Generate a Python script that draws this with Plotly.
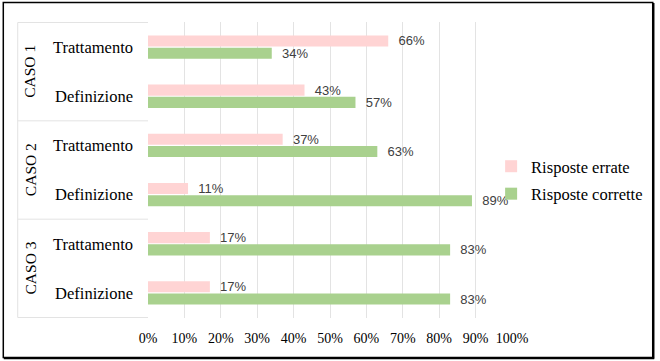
import plotly.graph_objects as go

# ---- data ----
casi = ["CASO 1", "CASO 2", "CASO 3"]
sottocategorie = ["Trattamento", "Definizione"]
tick_labels = ["Trattamento", "Definizione", "Trattamento", "Definizione", "Trattamento", "Definizione"]
risposte_errate = [66, 43, 37, 11, 17, 17]
risposte_corrette = [34, 57, 63, 89, 83, 83]
series_names = ["Risposte errate", "Risposte corrette"]
x_ticks = [0, 10, 20, 30, 40, 50, 60, 70, 80, 90, 100]

# ---- geometry ----
W, H = 660, 361
L, R, T, B = 148, 146, 22, 43
PW, PH = W - L - R, H - T - B


def px_x(px):
    return (px - L) / PW


def px_y(py):
    return (H - B - py) / PH


pos = list(range(len(tick_labels)))
pink = "#FFD4D4"
green = "#A9D18E"
serif = "Liberation Serif"
label_font = dict(family="Liberation Sans", size=13, color="#404040")

fig = go.Figure()
fig.add_trace(go.Bar(
    y=pos, x=risposte_errate, orientation="h", name=series_names[0],
    marker=dict(color=pink, line=dict(width=0)),
    text=["\u00a0\u00a0%d%%" % v for v in risposte_errate],
    textposition="outside", textfont=label_font, cliponaxis=False,
    constraintext="none", legendgroup="a",
))
fig.add_trace(go.Bar(
    y=pos, x=risposte_corrette, orientation="h", name=series_names[1],
    marker=dict(color=green, line=dict(width=0)),
    text=["\u00a0\u00a0%d%%" % v for v in risposte_corrette],
    textposition="outside", textfont=label_font, cliponaxis=False,
    constraintext="none", legendgroup="b",
))

shapes = []
div_color = "#E3E3E3"
# dividers in the category label column
for b in [-0.5, 1.5, 3.5, 5.5]:
    shapes.append(dict(type="line", xref="paper", yref="y",
                       x0=px_x(17), x1=0, y0=b, y1=b,
                       line=dict(color=div_color, width=1)))
shapes.append(dict(type="line", xref="paper", yref="y",
                   x0=px_x(17), x1=px_x(17), y0=-0.5, y1=5.5,
                   line=dict(color=div_color, width=1)))
# outer frame
shapes.append(dict(type="rect", xref="paper", yref="paper",
                   x0=px_x(2.5), x1=px_x(655.5), y0=px_y(357.5), y1=px_y(2.5),
                   line=dict(color="black", width=1.5)))
shapes.append(dict(type="line", xref="paper", yref="paper",
                   x0=px_x(656.5), x1=px_x(656.5), y0=px_y(358.5), y1=px_y(3),
                   line=dict(color="black", width=1.5)))
shapes.append(dict(type="line", xref="paper", yref="paper",
                   x0=px_x(3), x1=px_x(657), y0=px_y(358.5), y1=px_y(358.5),
                   line=dict(color="black", width=1.5)))

annotations = []
for i, c in enumerate(casi):
    annotations.append(dict(
        text=c, xref="paper", yref="y", x=px_x(29.5), y=2 * i + 0.5,
        xanchor="center", yanchor="middle",
        textangle=-90, showarrow=False,
        font=dict(family=serif, size=15.5, color="black"),
    ))

fig.update_layout(
    width=W, height=H,
    margin=dict(l=L, r=R, t=T, b=B, pad=0),
    paper_bgcolor="white", plot_bgcolor="white",
    barmode="group", bargap=0.5, bargroupgap=0.1,
    showlegend=True,
    legend=dict(
        x=px_x(493), y=px_y(180), xanchor="left", yanchor="middle",
        font=dict(family=serif, size=16.5, color="black"),
        traceorder="grouped", tracegroupgap=3,
        bgcolor="rgba(0,0,0,0)",
    ),
    xaxis=dict(
        range=[0, 100], tickvals=x_ticks, ticktext=["%d%%" % v for v in x_ticks],
        showgrid=True, gridcolor=div_color, gridwidth=1,
        zeroline=False, showline=False, ticks="",
        tickfont=dict(family=serif, size=14, color="black"),
        ticklabelstandoff=10, fixedrange=True,
    ),
    yaxis=dict(
        tickvals=pos, ticktext=tick_labels, autorange="reversed",
        range=[5.5, -0.5],
        showgrid=False, zeroline=False, showline=False, ticks="",
        tickfont=dict(family=serif, size=16.5, color="black"),
        ticklabelstandoff=14, fixedrange=True,
    ),
    shapes=shapes,
    annotations=annotations,
)

fig.write_html(
    "out.html",
    config={"displayModeBar": False},
    post_script="document.body.style.margin='0';document.body.style.overflow='hidden';",
)
